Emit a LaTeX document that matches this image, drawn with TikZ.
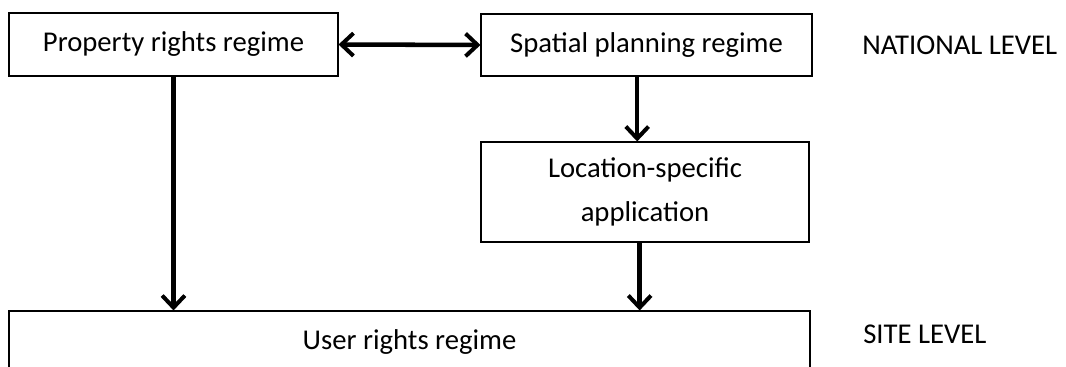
\documentclass[tikz,border=0pt]{standalone}
\usepackage{fontspec}
\setmainfont{Carlito}
\usetikzlibrary{arrows.meta}

\begin{document}
\begin{tikzpicture}[x = 0.75pt, y = -0.75pt,
		regime/.style = {draw, line width = 0.8pt, rectangle, align = center, inner sep = 0pt, font = \fontsize{21.5}{33}\selectfont},
		level/.style = {anchor = west, inner sep = 0pt, font = \fontsize{21.5}{33}\selectfont},
		barb/.tip = {Straight Barb[length = 9pt, width = 17pt, line width = 3pt]},
		flow/.style = {line width = 3.4pt, -barb},
		twoway/.style = {line width = 3.4pt, barb-barb}]
					\useasboundingbox (0,0) rectangle (1066,367);

					\begin{scope}
						\node [regime, minimum width = 329*0.75pt, minimum height = 63*0.75pt] (property) at (173.5,44.5) {Property rights regime};
						\node [regime, minimum width = 331*0.75pt, minimum height = 62*0.75pt] (planning) at (646.5,45) {Spatial planning regime};
						\node [regime, minimum width = 328*0.75pt, minimum height = 100*0.75pt] (location) at (645,192) {Location-specific\\application};
						\node [regime, minimum width = 801*0.75pt, minimum height = 62*0.75pt] (user) at (409.5,342) {User rights regime};
					\end{scope}

					\begin{scope}
						\node [level] (national) at (862,45) {NATIONAL LEVEL};
						\node [level] (site) at (863,334) {SITE LEVEL};
					\end{scope}

					\begin{scope}
						\draw [twoway] (property.east) -- (planning.west);
						\draw [flow] (property.south) -- (property.south |- user.north);
						\draw [flow] ([xshift = -7pt]planning.south) -- ([xshift = -7pt]planning.south |- location.north);
						\draw [flow] ([xshift = -4pt]location.south) -- ([xshift = -4pt]location.south |- user.north);
					\end{scope}
				\end{tikzpicture}
\end{document}
